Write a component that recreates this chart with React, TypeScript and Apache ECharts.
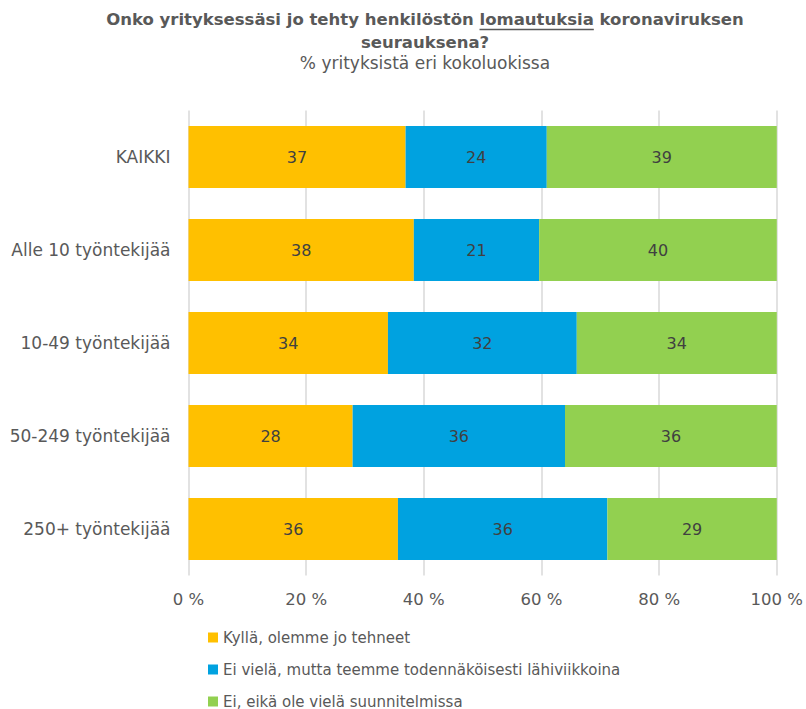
import React, { useEffect, useRef } from "react";
import * as echarts from "echarts";

const categories = ["KAIKKI", "Alle 10 työntekijää", "10-49 työntekijää", "50-249 työntekijää", "250+ työntekijää"];
const seriesNames = [
  "Kyllä, olemme jo tehneet",
  "Ei vielä, mutta teemme todennäköisesti lähiviikkoina",
  "Ei, eikä ole vielä suunnitelmissa",
];
const yesValues = [36.9, 38.3, 33.9, 27.9, 35.6];
const notYetValues = [24.0, 21.3, 32.1, 36.1, 35.6];
const noValues = [39.1, 40.4, 34.0, 36.0, 28.8];
const colors = ["#FFC000", "#00A2E0", "#92D050"];
const xTicks = { min: 0, max: 100, interval: 20 };

const FONT = "'DejaVu Sans', sans-serif";
const TITLE_PRE = "Onko yrityksessäsi jo tehty henkilöstön ";
const TITLE_U = "lomautuksia";
const TITLE_POST = " koronaviruksen";

export default function App() {
  const ref = useRef<HTMLDivElement>(null);
  useEffect(() => {
    document.body.style.margin = "0";
    if (!ref.current) return;
    const chart = echarts.init(ref.current, null, { renderer: "svg" });

    const cv = document.createElement("canvas").getContext("2d")!;
    const titleSize = 16.5;
    const titleFont = `bold ${titleSize}px ${FONT}`;
    cv.font = titleFont;
    const wPre = cv.measureText(TITLE_PRE).width;
    const wU = cv.measureText(TITLE_U).width;
    const wPost = cv.measureText(TITLE_POST).width;
    const total = wPre + wU + wPost;
    const cx = 425;
    const uStart = cx - total / 2 + wPre;

    const mk = (name: string, data: number[], color: string) => ({
      name,
      type: "bar",
      stack: "total",
      data,
      barWidth: 62,
      itemStyle: { color },
      label: {
        show: true,
        position: "inside",
        color: "#404040",
        fontSize: 16,
        fontFamily: FONT,
        formatter: (p: any) => String(Math.round(p.value)),
      },
    });

    chart.setOption({
      animation: false,
      textStyle: { fontFamily: FONT },
      graphic: [
        {
          type: "text",
          x: cx,
          y: 19,
          style: {
            text: TITLE_PRE + TITLE_U + TITLE_POST,
            font: titleFont,
            fill: "#595959",
            align: "center",
            verticalAlign: "middle",
          },
        },
        {
          type: "text",
          x: cx,
          y: 42,
          style: {
            text: "seurauksena?",
            font: titleFont,
            fill: "#595959",
            align: "center",
            verticalAlign: "middle",
          },
        },
        {
          type: "line",
          shape: { x1: uStart, y1: 29.5, x2: uStart + wU, y2: 29.5 },
          style: { stroke: "#595959", lineWidth: 1.6 },
        },
        {
          type: "text",
          x: cx,
          y: 63,
          style: {
            text: "% yrityksistä eri kokoluokissa",
            font: `17px ${FONT}`,
            fill: "#595959",
            align: "center",
            verticalAlign: "middle",
          },
        },
      ],
      legend: {
        orient: "vertical",
        left: 208,
        top: 630,
        height: 120,
        padding: 0,
        itemWidth: 10,
        itemHeight: 10,
        itemGap: 17,
        icon: "rect",
        data: seriesNames,
        textStyle: { fontSize: 15, color: "#595959", fontFamily: FONT, lineHeight: 14 },
      },
      grid: { left: 188.5, right: 26.5, top: 110.5, bottom: 133.5 },
      xAxis: {
        type: "value",
        min: xTicks.min,
        max: xTicks.max,
        interval: xTicks.interval,
        axisLine: { show: false },
        axisTick: { show: false },
        axisLabel: { formatter: "{value} %", fontSize: 16.5, color: "#595959", margin: 15 },
        splitLine: { lineStyle: { color: "#D9D9D9", width: 1.5 } },
      },
      yAxis: {
        type: "category",
        data: categories,
        inverse: true,
        axisLine: { show: false },
        axisTick: { show: false },
        axisLabel: { fontSize: 17, color: "#595959", margin: 18 },
      },
      series: [
        mk(seriesNames[0], yesValues, colors[0]),
        mk(seriesNames[1], notYetValues, colors[1]),
        mk(seriesNames[2], noValues, colors[2]),
      ],
    });
    return () => chart.dispose();
  }, []);
  return <div ref={ref} style={{ width: 806, height: 709 }} />;
}
